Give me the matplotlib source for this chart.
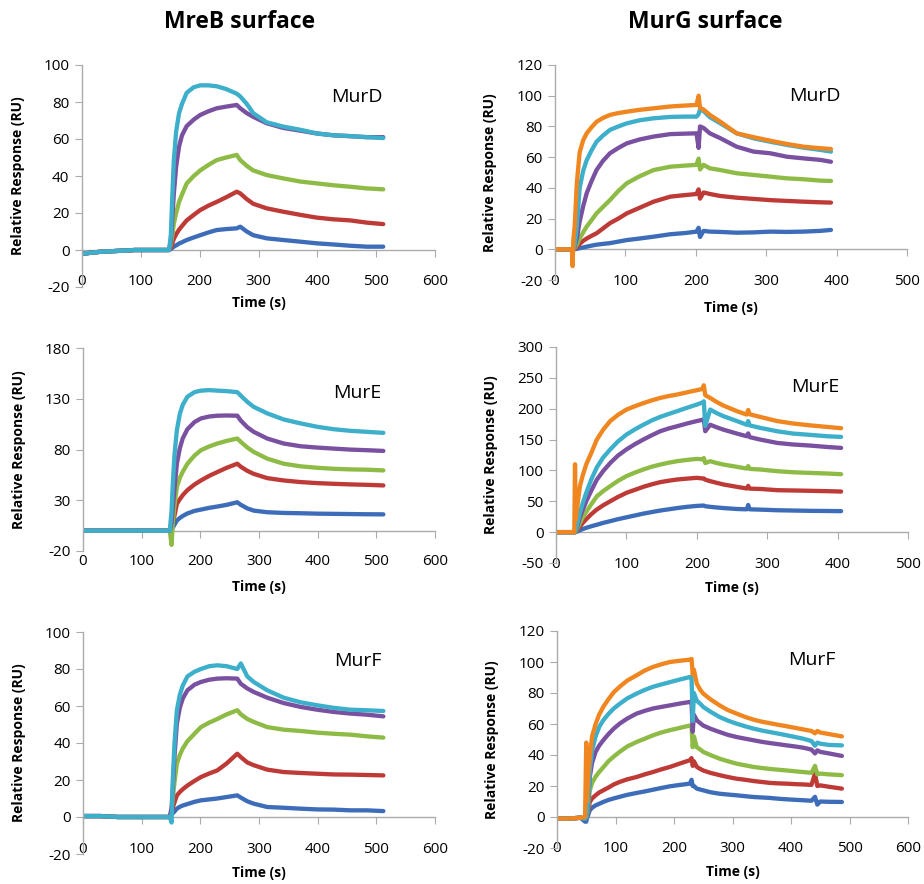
import numpy as np
import matplotlib.pyplot as plt

plt.rcParams['font.family'] = ['Open Sans', 'DejaVu Sans']
plt.rcParams['axes.unicode_minus'] = False

# curve colours, lowest to highest concentration
c_blue = '#3D6DB9'
c_red = '#BE3A36'
c_green = '#8EBB45'
c_purple = '#7A51A0'
c_cyan = '#3DAFCB'
c_orange = '#F0861F'
axis_grey = '#ABABAB'

# ---------------- MreB surface (left column) ----------------
t_mreb = [0, 30, 60, 90, 120, 148, 151, 153, 156, 160, 165, 170, 178, 190, 201, 215,
          229, 245, 263, 269, 280, 291, 314, 342, 371, 399, 427, 456, 484, 512]

mreb_d_blue = [-2, -1, -0.5, 0, 0, 0, 0.5, 1, 1.8, 2.5, 3.5, 4.2, 5.4, 6.8, 8, 9.5,
               10.8, 11.3, 11.7, 12.6, 10, 8, 6.3, 5.4, 4.5, 3.6, 3, 2.3, 1.8, 1.8]
mreb_d_red = [-2, -1, -0.5, 0, 0, 0, 1, 3, 6, 8.5, 11, 13, 16, 19, 21.6, 24,
              26, 28.5, 31.5, 30.6, 27.5, 25, 22.5, 20.7, 19, 17.5, 16.6, 16, 14.8, 14]
mreb_d_green = [-2, -1, -0.5, 0, 0, 0, 3, 7, 14, 20, 26, 30, 36, 40, 43, 46,
                48.6, 50, 51.4, 48.6, 45.5, 43, 40.5, 38.7, 37, 36, 35, 34.2, 33.3, 32.8]
mreb_d_purple = [-2, -1, -0.5, 0, 0, 0, 5, 15, 30, 45, 56, 62, 67, 70.5, 73, 75,
                 76.6, 77.5, 78.4, 76.6, 74, 72, 68.5, 66, 64.5, 63, 62, 61.5, 61, 61]
mreb_d_cyan = [-2, -1, -0.5, 0, 0, 0, 8, 25, 48, 64, 74, 79, 85, 88, 89, 89,
               88.5, 87, 84.5, 83, 79, 74, 69, 66.7, 65, 63, 62, 61.6, 61, 60.5]

mreb_e_blue = [0, 0, 0, 0, 0, 0, 1, 3, 6, 10, 12.5, 14.5, 17, 19.5, 20.8, 22.5,
               23.8, 25.5, 28, 25.5, 22, 19.8, 18.2, 17.5, 17.2, 16.8, 16.6, 16.4, 16.2, 16.1]
mreb_e_red = [0, 0, 0, 0, 0, 0, 3, 8, 15, 26.4, 31, 35, 40, 45.5, 49.5, 54,
              57.8, 62, 66, 63, 59, 56, 51.8, 49.5, 47.9, 46.9, 46.2, 45.6, 45.2, 44.6]
mreb_e_green = [0, 0, 0, 0, 0, 0, -14, 8, 25, 43, 52, 58, 66, 74, 79.3, 83,
                85.9, 88.5, 90.8, 87.5, 82, 77.6, 71, 66, 63.4, 62, 61, 60.4, 60.1, 59.4]
mreb_e_purple = [0, 0, 0, 0, 0, 0, 8, 22, 42, 66, 81, 91, 100, 107, 110.6, 112.5,
                 113.3, 113.5, 113.3, 108.5, 102, 97.4, 90.8, 85.9, 83.2, 81.9, 80.9, 79.9, 79.3, 78.6]
mreb_e_cyan = [0, 0, 0, 0, 0, 0, 20, 45, 75, 99, 115, 124, 132, 136.5, 138, 138.5,
               138, 137.5, 136.5, 133, 127, 122, 115.6, 109.6, 105.7, 102.4, 100, 98.4, 97.4, 96.4]

mreb_f_blue = [0.5, 0.5, 0, 0, 0, 0, 1, 2, 3, 4.5, 5.5, 6.2, 7, 8.2, 9, 9.5,
               10, 10.8, 11.7, 10.5, 8.5, 7.2, 5.4, 5, 4.5, 4.1, 4, 3.6, 3.6, 3.2]
mreb_f_red = [0.5, 0.5, 0, 0, 0, 0, 2, 5, 8, 11.7, 13.5, 15, 17, 19.5, 21.6, 23.5,
              25.2, 29, 34.2, 32.4, 29.5, 28, 25.6, 24.3, 23.8, 23.4, 23, 22.9, 22.7, 22.5]
mreb_f_green = [0.5, 0.5, 0, 0, 0, 0, 4, 10, 19, 28.8, 33.5, 37, 41, 45, 48.6, 51,
                53, 55.5, 57.7, 55.5, 53, 51.4, 48.6, 47.2, 46.5, 45.6, 45, 44.5, 43.6, 42.9]
mreb_f_purple = [0.5, 0.5, 0, 0, 0, 0, 5, 15, 33, 50.5, 59, 64, 68.5, 71.5, 73, 74.2,
                 74.8, 75, 74.8, 72, 69.5, 67.6, 64.5, 61.6, 59.5, 58, 56.8, 55.9, 55.3, 54.4]
mreb_f_cyan = [0.5, 0.5, 0, 0, 0, 0, -3, 20, 40, 57.7, 66, 71, 76, 78.5, 80, 81.5,
               82, 81.5, 80, 83, 76, 73, 68.5, 64.5, 62, 60.4, 59, 58, 57.7, 57.3]

# ---------------- MurG surface (right column) ----------------
t_murg_d = [0, 10, 20, 24, 25, 26, 28, 31, 35, 40, 45, 52, 59, 68, 78, 90, 102, 120, 140, 164,
            185, 201, 204, 206, 211, 220, 235, 258, 282, 306, 329, 353, 377, 392]
murg_d_blue = [0, 0, 0, 0, 0, 0, 0, 0.3, 0.7, 1.2, 1.7, 2.4, 3, 3.5, 4, 5, 6, 7, 8.2, 9.8,
               10.6, 11.5, 14, 8, 12, 11.5, 11.3, 10.8, 11, 11.5, 11.3, 11.5, 12, 12.6]
murg_d_red = [0, 0, 0, 0, 0, 0, 0.5, 1.5, 3.5, 5.5, 7, 8.8, 10.4, 13.5, 17, 20, 23.4, 27, 31, 34.3,
              35.3, 36, 39, 33, 37, 36, 34.7, 33.6, 32.8, 32, 31.5, 31, 30.6, 30.4]
murg_d_green = [0, 0, 0, 0, 0, 0, 1, 3, 7, 11, 14.8, 19, 23.4, 27.5, 32, 38, 43, 47.5, 51.6, 53.8,
                54.5, 55, 59, 52, 55, 52.7, 51.6, 49.5, 48.4, 47.3, 46.2, 45.6, 44.7, 44.5]
murg_d_purple = [0, 0, 0, 0, 0, 0, 2, 7, 18, 28, 36.5, 44.5, 51.6, 57.5, 62.5, 66, 69, 71.5, 73.4, 75,
                 75.3, 75.5, 66, 80, 79, 75.5, 72.3, 66.8, 63.6, 62.5, 60.3, 59.2, 58.2, 57]
murg_d_cyan = [0, 0, 0, 0, 0, 0, 3, 15, 40, 51, 58, 64.5, 70, 74, 77.7, 80, 82, 84, 85.3, 86.2,
               86.4, 86.4, 88, 91, 90, 86, 82, 75.5, 72.3, 70, 68, 66.2, 64.7, 63.6]
murg_d_orange = [0, 0, 0, 0, -11, 6, 15, 43, 63, 71, 75.5, 79.5, 83, 85.5, 87.5, 88.7, 89.6, 90.8, 91.8, 93,
                 93.6, 94, 100, 92, 91, 87.5, 83, 75.5, 73, 70.7, 68.6, 66.8, 65.8, 65.3]

t_murg_e = [0, 15, 26, 27, 28, 30, 34, 38, 43, 50, 58, 67, 77, 88, 100, 112, 124, 136, 148, 160,
            172, 186, 200, 208, 210, 212, 219, 228, 238, 257, 271, 273, 275, 290, 314, 337, 361, 385, 405]
murg_e_blue = [0, 0, 0, 0, 0, 1, 3, 5, 7, 9.5, 12, 15, 17.8, 21, 24, 27, 30, 32.5, 35, 37,
               39, 41, 42.5, 43, 43, 42, 41, 40, 39, 37.5, 37, 44, 37, 36.5, 35.5, 35, 34.5, 34.3, 34]
murg_e_red = [0, 0, 0, 0, 0.5, 3, 9, 15, 21, 29, 36.7, 43.5, 50, 57, 63.7, 68.5, 73.4, 77.5, 81, 83.3,
              85.3, 86.7, 88, 87, 87, 85, 82.6, 80, 77.2, 73.4, 70.7, 75, 70.5, 70, 68, 67.5, 67, 66.4, 65.8]
murg_e_green = [0, 0, 0, 0, 1, 5, 15, 24, 33, 45, 58, 66.5, 74.5, 83, 90.7, 96.5, 101.5, 106, 109.5, 112.5,
                115, 117, 118.7, 118, 120, 112, 115, 112, 109.5, 105.8, 103, 107, 102.5, 101.5, 98.8, 97, 96, 95, 93.9]
murg_e_purple = [0, 0, 0, 0, 2, 8, 24, 36, 50, 67, 85, 99, 112, 124, 134, 142.5, 150, 157, 163.5, 168,
                 171.6, 176, 180, 182, 183, 163.5, 174, 170, 166, 159.7, 155.4, 160, 154, 150, 144.6, 142, 140.3, 138, 136.5]
murg_e_cyan = [0, 0, 0, 0, 3, 12, 32, 47, 64, 85, 105, 121, 134, 147, 158, 166.5, 174, 181, 186.7, 191.5,
               196, 201.5, 206.7, 210, 212, 172, 198.6, 193, 187.8, 180, 174, 180, 173, 169, 163.5, 159.7, 157.6, 155.4, 154.3]
murg_e_orange = [0, 0, 0, 110, 20, 40, 74.5, 92, 110, 128, 150, 166, 180, 190, 198.6, 204, 209, 213.5, 217.5, 220.5,
                 223, 226.5, 230, 232, 238, 222, 217.5, 211, 205, 196, 190.5, 198, 191, 186.7, 180, 176, 173, 170.5, 168.4]

t_murg_f = [0, 20, 40, 48, 50, 51, 53, 56, 60, 66, 72, 79, 88, 97, 107, 120, 136, 150, 164, 178,
            193, 210, 227, 230, 232, 234, 239, 245, 250, 262, 278, 292, 307, 322, 336, 350, 364, 378, 393, 407,
            421, 435, 441, 445, 450, 465, 487]
murg_f_blue = [-1, -1, -0.5, -3, -3, -1, 1, 4.3, 6, 7.5, 8.5, 9.7, 11, 12, 13, 14.3, 15.5, 16.5, 17.6, 18.7,
               19.8, 20.7, 21.5, 24, 20, 20, 18.3, 17.7, 17.2, 16, 15, 14.5, 14, 13.4, 12.9, 12.6, 12.3, 11.8, 11.4, 11.1,
               10.8, 10.5, 13, 8, 10, 9.8, 9.7]
murg_f_red = [-1, -1, -0.5, -1, 0, 0.5, 3, 9.7, 12, 14, 15.8, 17.2, 19, 21, 22.6, 24.3, 25.8, 27.5, 29, 30.7,
              32.3, 34.5, 36.6, 38, 33, 36, 32.3, 31, 30, 28.5, 27, 25.8, 24.7, 24, 23.2, 22.6, 22, 21.7, 21.5, 21.2,
              21, 20.7, 28, 20, 20.4, 19.5, 18.3]
murg_f_green = [-1, -1, -0.5, -1, 0, 1, 5, 17, 22, 26, 29, 32, 36, 39, 42, 45.5, 48.4, 50.5, 52.7, 54.5,
                56, 57.5, 59, 58.5, 45, 52, 45, 43.5, 42, 40, 37.6, 36, 34.4, 33.3, 32.3, 31.6, 31, 30.5, 30, 29.5,
                29, 28.5, 33, 27.5, 28, 27.5, 27]
murg_f_purple = [-1, -1, -0.5, -1, 0, 2, 8, 25.8, 35, 42, 46, 49.5, 53.5, 57, 60.2, 63.5, 66.7, 68.5, 70, 71,
                 72, 73.2, 74.2, 74, 55, 66, 62.4, 60.5, 59, 57, 54.8, 53, 51.6, 50.5, 49.5, 48.5, 47.7, 47, 46.2, 45.5,
                 44.7, 43.5, 41, 43, 42, 41, 39.4]
murg_f_cyan = [-1, -1, -0.5, -1, 0, 2, 10, 30, 43, 52, 58, 62.4, 66.5, 70, 73, 76.5, 79.6, 82, 84, 85.5,
               87, 88.7, 90.3, 90, 62, 80, 75, 73, 71, 68, 64.5, 62.2, 60.2, 58.5, 57, 55.8, 54.8, 53.8, 52.7, 51.6,
               50.5, 49, 46, 48, 47.3, 46.5, 46.2]
murg_f_orange = [-1, -1, -0.5, 0, 48, 10, 25, 38.7, 52, 60, 66, 71, 76, 80.5, 84, 88, 91.4, 94.5, 96.8, 98.5,
                 100, 100.8, 101.5, 102, 92, 95, 86, 82, 79.6, 76, 72, 69, 66.7, 64.5, 62.8, 61.5, 60.5, 59.5, 58.5, 57.5,
                 56.5, 55.5, 54, 55.5, 54.5, 53.5, 52]

colors5 = [c_blue, c_red, c_green, c_purple, c_cyan]
colors6 = colors5 + [c_orange]

W, H = 924, 884
fig = plt.figure(figsize=(W / 100, H / 100), dpi=100)

# panel layout in pixels: left, top, right, bottom of the plot area
panels = [
    dict(box=(82, 65, 435, 287), t=t_mreb, ys=[mreb_d_blue, mreb_d_red, mreb_d_green, mreb_d_purple, mreb_d_cyan],
         xmax=600, yt=np.arange(-20, 101, 20), name='MurD', npos=(0.78, 0.856), xoff=-7, toff=16, yoff=57),
    dict(box=(555, 65, 907, 280), t=t_murg_d, ys=[murg_d_blue, murg_d_red, murg_d_green, murg_d_purple, murg_d_cyan, murg_d_orange],
         xmax=500, yt=np.arange(-20, 121, 20), name='MurD', npos=(0.739, 0.856), xoff=0, toff=28, yoff=58),
    dict(box=(83, 348, 435, 551), t=t_mreb, ys=[mreb_e_blue, mreb_e_red, mreb_e_green, mreb_e_purple, mreb_e_cyan],
         xmax=600, yt=np.arange(-20, 181, 50), name='MurE', npos=(0.78, 0.78), xoff=9, toff=36, yoff=57),
    dict(box=(556, 347, 908, 563), t=t_murg_e, ys=[murg_e_blue, murg_e_red, murg_e_green, murg_e_purple, murg_e_cyan, murg_e_orange],
         xmax=500, yt=np.arange(-50, 301, 50), name='MurE', npos=(0.736, 0.815), xoff=0, toff=25, yoff=58),
    dict(box=(83, 632, 435, 854), t=t_mreb, ys=[mreb_f_blue, mreb_f_red, mreb_f_green, mreb_f_purple, mreb_f_cyan],
         xmax=600, yt=np.arange(-20, 101, 20), name='MurF', npos=(0.78, 0.87), xoff=-6, toff=19, yoff=57),
    dict(box=(557, 631, 908, 848), t=t_murg_f, ys=[murg_f_blue, murg_f_red, murg_f_green, murg_f_purple, murg_f_cyan, murg_f_orange],
         xmax=600, yt=np.arange(-20, 121, 20), name='MurF', npos=(0.727, 0.866), xoff=-1, toff=24, yoff=58),
]

for p in panels:
    x0, y0, x1, y1 = p['box']
    ax = fig.add_axes([x0 / W, 1 - y1 / H, (x1 - x0) / W, (y1 - y0) / H])
    hpx = y1 - y0
    cols = colors6 if len(p['ys']) == 6 else colors5
    for v, c in zip(p['ys'], cols):
        ax.plot(p['t'], v, color=c, lw=3.1, solid_joinstyle='round', solid_capstyle='round')

    ymin, ymax = p['yt'][0], p['yt'][-1]
    xt = np.arange(0, p['xmax'] + 1, 100)
    ax.set_xlim(0, p['xmax'])
    ax.set_ylim(ymin, ymax)
    ax.set_xticks(xt)
    ax.set_yticks(p['yt'])

    for s in ['top', 'right', 'bottom']:
        ax.spines[s].set_visible(False)
    ax.spines['left'].set_color(axis_grey)
    ax.spines['left'].set_linewidth(1.0)
    ax.tick_params(axis='y', direction='out', length=5, color=axis_grey, labelsize=11, pad=4)
    ax.tick_params(axis='x', length=0, labelsize=11, pad=(p['xoff'] - 6) * 0.72)

    # horizontal axis line drawn through y = 0
    frac = (0 - ymin) / (ymax - ymin)
    sec = ax.secondary_xaxis(frac)
    sec.set_xticks(xt)
    sec.tick_params(direction='out', length=5, color=axis_grey, labelbottom=False)
    sec.spines['bottom'].set_color(axis_grey)
    sec.spines['bottom'].set_linewidth(1.0)

    ax.set_xlabel('Time (s)', fontsize=10, fontweight='bold')
    ax.xaxis.set_label_coords(0.5, -(p['toff'] - 7) / hpx)
    ax.set_ylabel('Relative Response (RU)', fontsize=10, fontweight='bold')
    ax.yaxis.set_label_coords(-p['yoff'] / (x1 - x0), 0.5)

    ax.text(p['npos'][0], p['npos'][1], p['name'], transform=ax.transAxes,
            ha='center', va='center', fontsize=14)

fig.text(240 / W, 1 - 22 / H, 'MreB surface', ha='center', va='center', fontsize=16.5, fontweight='bold')
fig.text(705 / W, 1 - 22 / H, 'MurG surface', ha='center', va='center', fontsize=16.5, fontweight='bold')

fig.savefig('out.png', dpi=100)
